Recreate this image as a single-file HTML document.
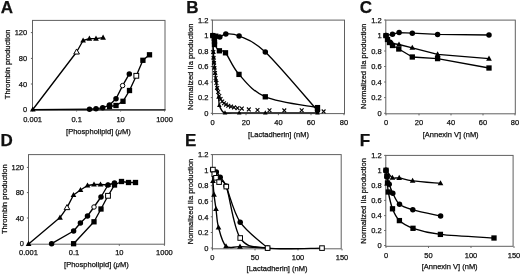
<!DOCTYPE html>
<html><head><meta charset="utf-8"><title>Figure</title>
<style>
html,body{margin:0;padding:0;background:#fff;}
body{width:520px;height:274px;overflow:hidden;}
svg{display:block;filter:blur(0.3px);}
svg text{font-family:"Liberation Sans", sans-serif;fill:#111;stroke:#111;stroke-width:0.25px;}
</style></head>
<body>
<svg width="520" height="274" viewBox="0 0 520 274">
<rect width="520" height="274" fill="#fff"/>
<rect x="32.5" y="20.4" width="132.50" height="89.50" fill="none" stroke="#606060" stroke-width="1"/>
<line x1="32.5" y1="109.9" x2="165.5" y2="109.9" stroke="#1a1a1a" stroke-width="1.2"/>
<line x1="30.9" y1="109.5" x2="32.5" y2="109.5" stroke="#606060" stroke-width="1"/>
<text x="27.2" y="112.2" text-anchor="end" font-size="7.5" font-weight="normal" >0</text>
<line x1="30.9" y1="84" x2="32.5" y2="84" stroke="#606060" stroke-width="1"/>
<text x="27.2" y="86.7" text-anchor="end" font-size="7.5" font-weight="normal" >40</text>
<line x1="30.9" y1="58.4" x2="32.5" y2="58.4" stroke="#606060" stroke-width="1"/>
<text x="27.2" y="61.1" text-anchor="end" font-size="7.5" font-weight="normal" >80</text>
<line x1="30.9" y1="32.6" x2="32.5" y2="32.6" stroke="#606060" stroke-width="1"/>
<text x="27.2" y="35.300000000000004" text-anchor="end" font-size="7.5" font-weight="normal" >120</text>
<line x1="32.6" y1="109.9" x2="32.6" y2="111.5" stroke="#606060" stroke-width="1"/>
<text x="32.6" y="122.2" text-anchor="middle" font-size="7.5" font-weight="normal" >0.001</text>
<line x1="76.6" y1="109.9" x2="76.6" y2="111.5" stroke="#606060" stroke-width="1"/>
<text x="76.6" y="122.2" text-anchor="middle" font-size="7.5" font-weight="normal" >0.1</text>
<line x1="120.6" y1="109.9" x2="120.6" y2="111.5" stroke="#606060" stroke-width="1"/>
<text x="120.6" y="122.2" text-anchor="middle" font-size="7.5" font-weight="normal" >10</text>
<line x1="164.5" y1="109.9" x2="164.5" y2="111.5" stroke="#606060" stroke-width="1"/>
<text x="164.5" y="122.2" text-anchor="middle" font-size="7.5" font-weight="normal" >1000</text>
<text x="98.4" y="133.9" text-anchor="middle" font-size="7.5" font-weight="normal" >[Phospholipid] (<tspan font-style="italic">μ</tspan>M)</text>
<text x="0" y="0" text-anchor="middle" font-size="7.6" transform="translate(10.2,64.4) rotate(-90)">Thrombin production</text>
<path d="M32.80,109.50 L76.60,52.00 L83.10,40.50 L89.40,38.60 L96.00,38.60 L103.10,37.60" fill="none" stroke="#000" stroke-width="1.35" stroke-linejoin="round"/>
<polygon points="32.80,106.44 35.65,111.54 29.95,111.54" fill="#000"/>
<polygon points="76.60,48.94 79.45,54.04 73.75,54.04" fill="#fff" stroke="#000" stroke-width="1" stroke-linejoin="miter"/>
<polygon points="83.10,37.44 85.95,42.54 80.25,42.54" fill="#000"/>
<polygon points="89.40,35.54 92.25,40.64 86.55,40.64" fill="#000"/>
<polygon points="96.00,35.54 98.85,40.64 93.15,40.64" fill="#000"/>
<polygon points="103.10,34.54 105.95,39.64 100.25,39.64" fill="#000"/>
<path d="M32.80,109.60 L89.50,109.20" fill="none" stroke="#000" stroke-width="1.35" stroke-linejoin="round"/>
<path d="M89.50,109.20 L96.00,108.70 L102.70,107.80 L109.50,105.00 L116.00,98.70 L122.60,85.60 L129.30,73.90" fill="none" stroke="#000" stroke-width="1.35" stroke-linejoin="round"/>
<circle cx="89.5" cy="109.2" r="2.75" fill="#000"/>
<circle cx="96" cy="108.7" r="2.75" fill="#000"/>
<circle cx="102.7" cy="107.8" r="2.75" fill="#000"/>
<circle cx="109.5" cy="105" r="2.75" fill="#000"/>
<circle cx="116" cy="98.7" r="2.75" fill="#000"/>
<circle cx="122.6" cy="85.6" r="2.25" fill="#fff" stroke="#000" stroke-width="1"/>
<circle cx="129.3" cy="73.9" r="2.75" fill="#000"/>
<path d="M109.50,106.50 L116.00,105.50 L123.00,101.30 L129.50,90.50 L136.30,75.80 L142.90,60.30 L149.50,54.80" fill="none" stroke="#000" stroke-width="1.35" stroke-linejoin="round"/>
<rect x="106.85" y="103.85" width="5.3" height="5.3" fill="#000"/>
<rect x="113.35" y="102.85" width="5.3" height="5.3" fill="#000"/>
<rect x="120.35" y="98.65" width="5.3" height="5.3" fill="#000"/>
<rect x="126.85" y="87.85" width="5.3" height="5.3" fill="#000"/>
<rect x="133.90" y="73.40" width="4.8" height="4.8" fill="#fff" stroke="#000" stroke-width="1"/>
<rect x="140.25" y="57.65" width="5.3" height="5.3" fill="#000"/>
<rect x="146.85" y="52.15" width="5.3" height="5.3" fill="#000"/>
<text x="7" y="12.9" text-anchor="middle" font-size="17" font-weight="bold" >A</text>
<rect x="28.5" y="154.6" width="136.10" height="89.60" fill="none" stroke="#606060" stroke-width="1"/>
<line x1="26.9" y1="243.3" x2="28.5" y2="243.3" stroke="#606060" stroke-width="1"/>
<text x="24.0" y="246.0" text-anchor="end" font-size="7.5" font-weight="normal" >0</text>
<line x1="26.9" y1="218" x2="28.5" y2="218" stroke="#606060" stroke-width="1"/>
<text x="24.0" y="220.7" text-anchor="end" font-size="7.5" font-weight="normal" >40</text>
<line x1="26.9" y1="192.6" x2="28.5" y2="192.6" stroke="#606060" stroke-width="1"/>
<text x="24.0" y="195.29999999999998" text-anchor="end" font-size="7.5" font-weight="normal" >80</text>
<line x1="26.9" y1="167.4" x2="28.5" y2="167.4" stroke="#606060" stroke-width="1"/>
<text x="24.0" y="170.1" text-anchor="end" font-size="7.5" font-weight="normal" >120</text>
<line x1="28.5" y1="244.2" x2="28.5" y2="245.79999999999998" stroke="#606060" stroke-width="1"/>
<text x="28.5" y="255.4" text-anchor="middle" font-size="7.5" font-weight="normal" >0.001</text>
<line x1="74" y1="244.2" x2="74" y2="245.79999999999998" stroke="#606060" stroke-width="1"/>
<text x="74" y="255.4" text-anchor="middle" font-size="7.5" font-weight="normal" >0.1</text>
<line x1="119.3" y1="244.2" x2="119.3" y2="245.79999999999998" stroke="#606060" stroke-width="1"/>
<text x="119.3" y="255.4" text-anchor="middle" font-size="7.5" font-weight="normal" >10</text>
<line x1="164.4" y1="244.2" x2="164.4" y2="245.79999999999998" stroke="#606060" stroke-width="1"/>
<text x="164.4" y="255.4" text-anchor="middle" font-size="7.5" font-weight="normal" >1000</text>
<text x="96.4" y="267.4" text-anchor="middle" font-size="7.5" font-weight="normal" >[Phospholipid] (<tspan font-style="italic">μ</tspan>M)</text>
<text x="0" y="0" text-anchor="middle" font-size="7.6" transform="translate(6.9,199.2) rotate(-90)">Thrombin production</text>
<path d="M28.60,243.90 L60.00,217.60 L67.00,207.60 L73.50,195.00 L80.50,190.00 L87.50,185.50 L94.00,184.50 L100.50,184.50 L108.00,185.00" fill="none" stroke="#000" stroke-width="1.35" stroke-linejoin="round"/>
<polygon points="28.60,240.84 31.45,245.94 25.75,245.94" fill="#000"/>
<polygon points="60.00,214.54 62.85,219.64 57.15,219.64" fill="#000"/>
<polygon points="67.00,204.54 69.85,209.64 64.15,209.64" fill="#fff" stroke="#000" stroke-width="1" stroke-linejoin="miter"/>
<polygon points="73.50,191.94 76.35,197.04 70.65,197.04" fill="#000"/>
<polygon points="80.50,186.94 83.35,192.04 77.65,192.04" fill="#000"/>
<polygon points="87.50,182.44 90.35,187.54 84.65,187.54" fill="#000"/>
<polygon points="94.00,181.44 96.85,186.54 91.15,186.54" fill="#000"/>
<polygon points="100.50,181.44 103.35,186.54 97.65,186.54" fill="#000"/>
<polygon points="108.00,181.94 110.85,187.04 105.15,187.04" fill="#000"/>
<path d="M51.60,243.70 L73.60,231.00 L80.40,223.00 L87.50,216.00 L94.00,207.00 L101.00,197.00 L108.00,185.00 L114.50,183.00" fill="none" stroke="#000" stroke-width="1.35" stroke-linejoin="round"/>
<circle cx="51.6" cy="243.7" r="2.75" fill="#000"/>
<circle cx="73.6" cy="231" r="2.75" fill="#000"/>
<circle cx="80.4" cy="223" r="2.75" fill="#000"/>
<circle cx="87.5" cy="216" r="2.75" fill="#000"/>
<circle cx="94" cy="207" r="2.25" fill="#fff" stroke="#000" stroke-width="1"/>
<circle cx="101" cy="197" r="2.75" fill="#000"/>
<circle cx="108" cy="185" r="2.75" fill="#000"/>
<circle cx="114.5" cy="183" r="2.75" fill="#000"/>
<path d="M73.60,243.70 L94.00,221.80 L101.00,209.00 L108.00,195.80 L114.50,185.00 L121.50,181.50 L128.50,182.50 L135.50,182.50" fill="none" stroke="#000" stroke-width="1.35" stroke-linejoin="round"/>
<rect x="70.95" y="241.05" width="5.3" height="5.3" fill="#000"/>
<rect x="91.35" y="219.15" width="5.3" height="5.3" fill="#000"/>
<rect x="98.35" y="206.35" width="5.3" height="5.3" fill="#000"/>
<rect x="105.60" y="193.40" width="4.8" height="4.8" fill="#fff" stroke="#000" stroke-width="1"/>
<rect x="111.85" y="182.35" width="5.3" height="5.3" fill="#000"/>
<rect x="118.85" y="178.85" width="5.3" height="5.3" fill="#000"/>
<rect x="125.85" y="179.85" width="5.3" height="5.3" fill="#000"/>
<rect x="132.85" y="179.85" width="5.3" height="5.3" fill="#000"/>
<text x="6.6" y="146" text-anchor="middle" font-size="17" font-weight="bold" >D</text>
<rect x="212.4" y="20.1" width="132.10" height="93.50" fill="none" stroke="#606060" stroke-width="1"/>
<line x1="210.8" y1="113.3" x2="212.4" y2="113.3" stroke="#606060" stroke-width="1"/>
<text x="208.4" y="116.0" text-anchor="end" font-size="7.5" font-weight="normal" >0</text>
<line x1="210.8" y1="97.6" x2="212.4" y2="97.6" stroke="#606060" stroke-width="1"/>
<text x="208.4" y="100.3" text-anchor="end" font-size="7.5" font-weight="normal" >0.2</text>
<line x1="210.8" y1="82" x2="212.4" y2="82" stroke="#606060" stroke-width="1"/>
<text x="208.4" y="84.7" text-anchor="end" font-size="7.5" font-weight="normal" >0.4</text>
<line x1="210.8" y1="66.5" x2="212.4" y2="66.5" stroke="#606060" stroke-width="1"/>
<text x="208.4" y="69.2" text-anchor="end" font-size="7.5" font-weight="normal" >0.6</text>
<line x1="210.8" y1="51" x2="212.4" y2="51" stroke="#606060" stroke-width="1"/>
<text x="208.4" y="53.7" text-anchor="end" font-size="7.5" font-weight="normal" >0.8</text>
<line x1="210.8" y1="35.6" x2="212.4" y2="35.6" stroke="#606060" stroke-width="1"/>
<text x="208.4" y="38.300000000000004" text-anchor="end" font-size="7.5" font-weight="normal" >1</text>
<line x1="210.8" y1="20" x2="212.4" y2="20" stroke="#606060" stroke-width="1"/>
<text x="208.4" y="22.7" text-anchor="end" font-size="7.5" font-weight="normal" >1.2</text>
<line x1="212.6" y1="113.6" x2="212.6" y2="115.19999999999999" stroke="#606060" stroke-width="1"/>
<text x="212.6" y="125.3" text-anchor="middle" font-size="7.5" font-weight="normal" >0</text>
<line x1="246" y1="113.6" x2="246" y2="115.19999999999999" stroke="#606060" stroke-width="1"/>
<text x="246" y="125.3" text-anchor="middle" font-size="7.5" font-weight="normal" >20</text>
<line x1="278.4" y1="113.6" x2="278.4" y2="115.19999999999999" stroke="#606060" stroke-width="1"/>
<text x="278.4" y="125.3" text-anchor="middle" font-size="7.5" font-weight="normal" >40</text>
<line x1="311" y1="113.6" x2="311" y2="115.19999999999999" stroke="#606060" stroke-width="1"/>
<text x="311" y="125.3" text-anchor="middle" font-size="7.5" font-weight="normal" >60</text>
<line x1="344" y1="113.6" x2="344" y2="115.19999999999999" stroke="#606060" stroke-width="1"/>
<text x="344" y="125.3" text-anchor="middle" font-size="7.5" font-weight="normal" >80</text>
<text x="278.5" y="136.7" text-anchor="middle" font-size="7.5" font-weight="normal" >[Lactadherin] (nM)</text>
<text x="0" y="0" text-anchor="middle" font-size="7.6" transform="translate(193.1,66.8) rotate(-90)">Normalized IIa production</text>
<path d="M212.80,35.60 C213.97,35.83 217.63,37.27 219.80,37.00 C221.97,36.73 222.58,34.17 225.80,34.00 C229.02,33.83 232.52,33.00 239.10,36.00 C245.68,39.00 252.23,39.57 265.30,52.00 C278.37,64.43 308.80,100.83 317.50,110.60" fill="none" stroke="#000" stroke-width="1.35" stroke-linejoin="round"/>
<circle cx="212.8" cy="35.6" r="2.75" fill="#000"/>
<circle cx="219.8" cy="37" r="2.75" fill="#000"/>
<circle cx="225.8" cy="34" r="2.75" fill="#000"/>
<circle cx="239.1" cy="36" r="2.75" fill="#000"/>
<circle cx="265.3" cy="52" r="2.75" fill="#000"/>
<circle cx="317.5" cy="110.6" r="2.75" fill="#000"/>
<path d="M212.80,35.60 C213.30,35.70 215.55,35.72 215.80,36.20 C216.05,36.68 214.52,37.62 214.30,38.50 C214.08,39.38 214.47,40.50 214.50,41.50 C214.53,42.50 213.68,42.95 214.50,44.50 C215.32,46.05 217.57,49.42 219.40,50.80 C221.23,52.18 222.23,48.87 225.50,52.80 C228.77,56.73 232.37,67.07 239.00,74.40 C245.63,81.73 252.22,91.27 265.30,96.80 C278.38,102.33 308.80,105.80 317.50,107.60" fill="none" stroke="#000" stroke-width="1.35" stroke-linejoin="round"/>
<rect x="210.15" y="32.95" width="5.3" height="5.3" fill="#000"/>
<rect x="213.15" y="33.55" width="5.3" height="5.3" fill="#000"/>
<rect x="211.65" y="35.85" width="5.3" height="5.3" fill="#000"/>
<rect x="211.85" y="38.85" width="5.3" height="5.3" fill="#000"/>
<rect x="211.85" y="41.85" width="5.3" height="5.3" fill="#000"/>
<rect x="216.75" y="48.15" width="5.3" height="5.3" fill="#000"/>
<rect x="222.85" y="50.15" width="5.3" height="5.3" fill="#000"/>
<rect x="236.35" y="71.75" width="5.3" height="5.3" fill="#000"/>
<rect x="262.65" y="94.15" width="5.3" height="5.3" fill="#000"/>
<rect x="314.85" y="104.95" width="5.3" height="5.3" fill="#000"/>
<path d="M211.40,50.10 L215.20,53.90 M215.20,50.10 L211.40,53.90" stroke="#000" stroke-width="1.1"/>
<path d="M211.70,56.10 L215.50,59.90 M215.50,56.10 L211.70,59.90" stroke="#000" stroke-width="1.1"/>
<path d="M212.10,61.10 L215.90,64.90 M215.90,61.10 L212.10,64.90" stroke="#000" stroke-width="1.1"/>
<path d="M212.50,66.10 L216.30,69.90 M216.30,66.10 L212.50,69.90" stroke="#000" stroke-width="1.1"/>
<path d="M213.10,71.10 L216.90,74.90 M216.90,71.10 L213.10,74.90" stroke="#000" stroke-width="1.1"/>
<path d="M213.70,76.10 L217.50,79.90 M217.50,76.10 L213.70,79.90" stroke="#000" stroke-width="1.1"/>
<path d="M214.50,81.10 L218.30,84.90 M218.30,81.10 L214.50,84.90" stroke="#000" stroke-width="1.1"/>
<path d="M215.30,86.10 L219.10,89.90 M219.10,86.10 L215.30,89.90" stroke="#000" stroke-width="1.1"/>
<path d="M216.30,90.10 L220.10,93.90 M220.10,90.10 L216.30,93.90" stroke="#000" stroke-width="1.1"/>
<path d="M217.40,94.10 L221.20,97.90 M221.20,94.10 L217.40,97.90" stroke="#000" stroke-width="1.1"/>
<path d="M218.70,97.10 L222.50,100.90 M222.50,97.10 L218.70,100.90" stroke="#000" stroke-width="1.1"/>
<path d="M220.30,99.60 L224.10,103.40 M224.10,99.60 L220.30,103.40" stroke="#000" stroke-width="1.1"/>
<path d="M222.10,101.30 L225.90,105.10 M225.90,101.30 L222.10,105.10" stroke="#000" stroke-width="1.1"/>
<path d="M224.10,102.70 L227.90,106.50 M227.90,102.70 L224.10,106.50" stroke="#000" stroke-width="1.1"/>
<path d="M226.40,103.80 L230.20,107.60 M230.20,103.80 L226.40,107.60" stroke="#000" stroke-width="1.1"/>
<path d="M229.10,104.70 L232.90,108.50 M232.90,104.70 L229.10,108.50" stroke="#000" stroke-width="1.1"/>
<path d="M232.10,105.50 L235.90,109.30 M235.90,105.50 L232.10,109.30" stroke="#000" stroke-width="1.1"/>
<path d="M235.60,106.20 L239.40,110.00 M239.40,106.20 L235.60,110.00" stroke="#000" stroke-width="1.1"/>
<path d="M239.90,106.70 L243.70,110.50 M243.70,106.70 L239.90,110.50" stroke="#000" stroke-width="1.1"/>
<path d="M246.90,107.50 L250.70,111.30 M250.70,107.50 L246.90,111.30" stroke="#000" stroke-width="1.1"/>
<path d="M255.60,108.10 L259.40,111.90 M259.40,108.10 L255.60,111.90" stroke="#000" stroke-width="1.1"/>
<path d="M267.60,108.40 L271.40,112.20 M271.40,108.40 L267.60,112.20" stroke="#000" stroke-width="1.1"/>
<path d="M282.40,108.50 L286.20,112.30 M286.20,108.50 L282.40,112.30" stroke="#000" stroke-width="1.1"/>
<path d="M299.80,108.30 L303.60,112.10 M303.60,108.30 L299.80,112.10" stroke="#000" stroke-width="1.1"/>
<path d="M321.70,109.50 L325.50,113.30 M325.50,109.50 L321.70,113.30" stroke="#000" stroke-width="1.1"/>
<path d="M212.80,35.60 C212.90,38.33 213.27,48.43 213.40,52.00 C213.53,55.57 213.50,55.33 213.60,57.00 C213.70,58.67 213.85,60.33 214.00,62.00 C214.15,63.67 214.30,65.17 214.50,67.00 C214.70,68.83 214.95,70.83 215.20,73.00 C215.45,75.17 215.70,77.50 216.00,80.00 C216.30,82.50 216.58,85.17 217.00,88.00 C217.42,90.83 218.12,94.13 218.50,97.00 C218.88,99.87 218.80,103.03 219.30,105.20 C219.80,107.37 220.55,108.73 221.50,110.00 C222.45,111.27 222.05,112.33 225.00,112.80 C227.95,113.27 232.48,112.80 239.20,112.80 C245.92,112.80 252.25,112.80 265.30,112.80 C278.35,112.80 308.80,112.80 317.50,112.80" fill="none" stroke="#000" stroke-width="1.35" stroke-linejoin="round"/>
<polygon points="213.40,49.48 215.70,53.68 211.10,53.68" fill="#000"/>
<polygon points="213.60,54.48 215.90,58.68 211.30,58.68" fill="#000"/>
<polygon points="214.00,59.48 216.30,63.68 211.70,63.68" fill="#000"/>
<polygon points="214.50,64.48 216.80,68.68 212.20,68.68" fill="#000"/>
<polygon points="215.20,70.48 217.50,74.68 212.90,74.68" fill="#000"/>
<polygon points="216.00,77.48 218.30,81.68 213.70,81.68" fill="#000"/>
<polygon points="217.00,85.48 219.30,89.68 214.70,89.68" fill="#000"/>
<polygon points="218.50,94.48 220.80,98.68 216.20,98.68" fill="#000"/>
<polygon points="219.30,102.68 221.60,106.88 217.00,106.88" fill="#000"/>
<polygon points="225.00,110.28 227.30,114.48 222.70,114.48" fill="#000"/>
<polygon points="239.20,110.28 241.50,114.48 236.90,114.48" fill="#000"/>
<polygon points="265.30,110.28 267.60,114.48 263.00,114.48" fill="#000"/>
<polygon points="317.50,110.28 319.80,114.48 315.20,114.48" fill="#000"/>
<text x="192.5" y="13" text-anchor="middle" font-size="17" font-weight="bold" >B</text>
<rect x="385.8" y="20.1" width="129.50" height="93.70" fill="none" stroke="#606060" stroke-width="1"/>
<line x1="384.2" y1="113.3" x2="385.8" y2="113.3" stroke="#606060" stroke-width="1"/>
<text x="381.6" y="116.0" text-anchor="end" font-size="7.5" font-weight="normal" >0</text>
<line x1="384.2" y1="97.6" x2="385.8" y2="97.6" stroke="#606060" stroke-width="1"/>
<text x="381.6" y="100.3" text-anchor="end" font-size="7.5" font-weight="normal" >0.2</text>
<line x1="384.2" y1="82" x2="385.8" y2="82" stroke="#606060" stroke-width="1"/>
<text x="381.6" y="84.7" text-anchor="end" font-size="7.5" font-weight="normal" >0.4</text>
<line x1="384.2" y1="66.5" x2="385.8" y2="66.5" stroke="#606060" stroke-width="1"/>
<text x="381.6" y="69.2" text-anchor="end" font-size="7.5" font-weight="normal" >0.6</text>
<line x1="384.2" y1="51" x2="385.8" y2="51" stroke="#606060" stroke-width="1"/>
<text x="381.6" y="53.7" text-anchor="end" font-size="7.5" font-weight="normal" >0.8</text>
<line x1="384.2" y1="35.4" x2="385.8" y2="35.4" stroke="#606060" stroke-width="1"/>
<text x="381.6" y="38.1" text-anchor="end" font-size="7.5" font-weight="normal" >1</text>
<line x1="384.2" y1="20" x2="385.8" y2="20" stroke="#606060" stroke-width="1"/>
<text x="381.6" y="22.7" text-anchor="end" font-size="7.5" font-weight="normal" >1.2</text>
<line x1="386" y1="113.8" x2="386" y2="115.39999999999999" stroke="#606060" stroke-width="1"/>
<text x="386" y="125.3" text-anchor="middle" font-size="7.5" font-weight="normal" >0</text>
<line x1="419" y1="113.8" x2="419" y2="115.39999999999999" stroke="#606060" stroke-width="1"/>
<text x="419" y="125.3" text-anchor="middle" font-size="7.5" font-weight="normal" >20</text>
<line x1="451" y1="113.8" x2="451" y2="115.39999999999999" stroke="#606060" stroke-width="1"/>
<text x="451" y="125.3" text-anchor="middle" font-size="7.5" font-weight="normal" >40</text>
<line x1="483" y1="113.8" x2="483" y2="115.39999999999999" stroke="#606060" stroke-width="1"/>
<text x="483" y="125.3" text-anchor="middle" font-size="7.5" font-weight="normal" >60</text>
<line x1="515" y1="113.8" x2="515" y2="115.39999999999999" stroke="#606060" stroke-width="1"/>
<text x="515" y="125.3" text-anchor="middle" font-size="7.5" font-weight="normal" >80</text>
<text x="450.7" y="136.7" text-anchor="middle" font-size="7.5" font-weight="normal" >[Annexin V] (nM)</text>
<text x="0" y="0" text-anchor="middle" font-size="7.5" transform="translate(366.2,66.2) rotate(-90)">Normalized IIa production</text>
<path d="M386.00,35.60 L392.50,34.20 L399.10,32.60 L412.30,33.20 L437.60,34.40 L489.00,35.00" fill="none" stroke="#000" stroke-width="1.35" stroke-linejoin="round"/>
<circle cx="386" cy="35.6" r="2.75" fill="#000"/>
<circle cx="392.5" cy="34.2" r="2.75" fill="#000"/>
<circle cx="399.1" cy="32.6" r="2.75" fill="#000"/>
<circle cx="412.3" cy="33.2" r="2.75" fill="#000"/>
<circle cx="437.6" cy="34.4" r="2.75" fill="#000"/>
<circle cx="489" cy="35" r="2.75" fill="#000"/>
<path d="M386.00,35.60 L389.00,40.00 L392.50,43.50 L399.00,44.50 L412.30,47.80 L437.60,54.40 L489.00,58.60" fill="none" stroke="#000" stroke-width="1.35" stroke-linejoin="round"/>
<polygon points="386.00,32.54 388.85,37.64 383.15,37.64" fill="#000"/>
<polygon points="389.00,36.94 391.85,42.04 386.15,42.04" fill="#000"/>
<polygon points="392.50,40.44 395.35,45.54 389.65,45.54" fill="#000"/>
<polygon points="399.00,41.44 401.85,46.54 396.15,46.54" fill="#000"/>
<polygon points="412.30,44.74 415.15,49.84 409.45,49.84" fill="#000"/>
<polygon points="437.60,51.34 440.45,56.44 434.75,56.44" fill="#000"/>
<polygon points="489.00,55.54 491.85,60.64 486.15,60.64" fill="#000"/>
<path d="M386.00,35.60 L387.50,39.50 L389.50,42.50 L392.50,45.50 L398.80,49.00 L412.30,57.00 L437.60,58.60 L489.00,68.00" fill="none" stroke="#000" stroke-width="1.35" stroke-linejoin="round"/>
<rect x="383.35" y="32.95" width="5.3" height="5.3" fill="#000"/>
<rect x="384.85" y="36.85" width="5.3" height="5.3" fill="#000"/>
<rect x="386.85" y="39.85" width="5.3" height="5.3" fill="#000"/>
<rect x="389.85" y="42.85" width="5.3" height="5.3" fill="#000"/>
<rect x="396.15" y="46.35" width="5.3" height="5.3" fill="#000"/>
<rect x="409.65" y="54.35" width="5.3" height="5.3" fill="#000"/>
<rect x="434.95" y="55.95" width="5.3" height="5.3" fill="#000"/>
<rect x="486.35" y="65.35" width="5.3" height="5.3" fill="#000"/>
<text x="366" y="13" text-anchor="middle" font-size="17" font-weight="bold" >C</text>
<rect x="212.4" y="154.6" width="128.80" height="94.20" fill="none" stroke="#606060" stroke-width="1"/>
<line x1="210.8" y1="248" x2="212.4" y2="248" stroke="#606060" stroke-width="1"/>
<text x="208.4" y="250.7" text-anchor="end" font-size="7.5" font-weight="normal" >0</text>
<line x1="210.8" y1="232.5" x2="212.4" y2="232.5" stroke="#606060" stroke-width="1"/>
<text x="208.4" y="235.2" text-anchor="end" font-size="7.5" font-weight="normal" >0.2</text>
<line x1="210.8" y1="216.8" x2="212.4" y2="216.8" stroke="#606060" stroke-width="1"/>
<text x="208.4" y="219.5" text-anchor="end" font-size="7.5" font-weight="normal" >0.4</text>
<line x1="210.8" y1="201.2" x2="212.4" y2="201.2" stroke="#606060" stroke-width="1"/>
<text x="208.4" y="203.89999999999998" text-anchor="end" font-size="7.5" font-weight="normal" >0.6</text>
<line x1="210.8" y1="185.7" x2="212.4" y2="185.7" stroke="#606060" stroke-width="1"/>
<text x="208.4" y="188.39999999999998" text-anchor="end" font-size="7.5" font-weight="normal" >0.8</text>
<line x1="210.8" y1="170" x2="212.4" y2="170" stroke="#606060" stroke-width="1"/>
<text x="208.4" y="172.7" text-anchor="end" font-size="7.5" font-weight="normal" >1</text>
<line x1="210.8" y1="154.6" x2="212.4" y2="154.6" stroke="#606060" stroke-width="1"/>
<text x="208.4" y="157.29999999999998" text-anchor="end" font-size="7.5" font-weight="normal" >1.2</text>
<line x1="212.4" y1="248.8" x2="212.4" y2="250.4" stroke="#606060" stroke-width="1"/>
<text x="212.4" y="260.3" text-anchor="middle" font-size="7.5" font-weight="normal" >0</text>
<line x1="255" y1="248.8" x2="255" y2="250.4" stroke="#606060" stroke-width="1"/>
<text x="255" y="260.3" text-anchor="middle" font-size="7.5" font-weight="normal" >50</text>
<line x1="298" y1="248.8" x2="298" y2="250.4" stroke="#606060" stroke-width="1"/>
<text x="298" y="260.3" text-anchor="middle" font-size="7.5" font-weight="normal" >100</text>
<line x1="342" y1="248.8" x2="342" y2="250.4" stroke="#606060" stroke-width="1"/>
<text x="342" y="260.3" text-anchor="middle" font-size="7.5" font-weight="normal" >150</text>
<text x="277" y="270.5" text-anchor="middle" font-size="7.5" font-weight="normal" >[Lactadherin] (nM)</text>
<text x="0" y="0" text-anchor="middle" font-size="7.5" transform="translate(193.1,201.5) rotate(-90)">Normalized IIa production</text>
<path d="M212.60,170.00 C212.67,171.83 212.77,176.90 213.00,181.00 C213.23,185.10 213.50,189.93 214.00,194.60 C214.50,199.27 215.25,203.52 216.00,209.00 C216.75,214.48 216.83,221.30 218.50,227.50 C220.17,233.70 222.42,243.02 226.00,246.20 C229.58,249.38 233.07,246.30 240.00,246.60 C246.93,246.90 263.00,247.77 267.60,248.00" fill="none" stroke="#000" stroke-width="1.35" stroke-linejoin="round"/>
<polygon points="212.60,166.94 215.45,172.04 209.75,172.04" fill="#000"/>
<polygon points="213.00,177.94 215.85,183.04 210.15,183.04" fill="#000"/>
<polygon points="214.00,191.54 216.85,196.64 211.15,196.64" fill="#000"/>
<polygon points="216.00,205.94 218.85,211.04 213.15,211.04" fill="#000"/>
<polygon points="218.50,224.44 221.35,229.54 215.65,229.54" fill="#000"/>
<polygon points="226.00,243.14 228.85,248.24 223.15,248.24" fill="#000"/>
<polygon points="240.00,243.54 242.85,248.64 237.15,248.64" fill="#000"/>
<polygon points="267.60,244.94 270.45,250.04 264.75,250.04" fill="#000"/>
<path d="M212.60,170.00 C213.22,170.33 215.03,170.80 216.30,172.00 C217.57,173.20 218.58,174.87 220.20,177.20 C221.82,179.53 222.67,178.50 226.00,186.00 C229.33,193.50 233.27,211.87 240.20,222.20 C247.13,232.53 263.03,243.70 267.60,248.00" fill="none" stroke="#000" stroke-width="1.35" stroke-linejoin="round"/>
<circle cx="212.6" cy="170" r="2.75" fill="#000"/>
<circle cx="216.3" cy="172" r="2.75" fill="#000"/>
<circle cx="220.2" cy="177.2" r="2.75" fill="#000"/>
<circle cx="226" cy="186" r="2.75" fill="#000"/>
<circle cx="240.2" cy="222.2" r="2.75" fill="#000"/>
<circle cx="267.6" cy="248" r="2.75" fill="#000"/>
<path d="M212.90,169.60 C213.13,170.37 213.78,172.83 214.30,174.20 C214.82,175.57 215.20,176.48 216.00,177.80 C216.80,179.12 217.38,180.63 219.10,182.10 C220.82,183.57 222.78,177.28 226.30,186.60 C229.82,195.92 233.32,227.75 240.20,238.00 C247.08,248.25 253.97,246.42 267.60,248.10 C281.23,249.78 312.93,248.10 322.00,248.10" fill="none" stroke="#000" stroke-width="1.35" stroke-linejoin="round"/>
<rect x="210.60" y="167.30" width="4.6" height="4.6" fill="#fff" stroke="#000" stroke-width="1"/>
<rect x="212.00" y="171.90" width="4.6" height="4.6" fill="#fff" stroke="#000" stroke-width="1"/>
<rect x="213.70" y="175.50" width="4.6" height="4.6" fill="#fff" stroke="#000" stroke-width="1"/>
<rect x="216.80" y="179.80" width="4.6" height="4.6" fill="#fff" stroke="#000" stroke-width="1"/>
<rect x="224.00" y="184.30" width="4.6" height="4.6" fill="#fff" stroke="#000" stroke-width="1"/>
<rect x="237.90" y="235.70" width="4.6" height="4.6" fill="#fff" stroke="#000" stroke-width="1"/>
<rect x="265.30" y="245.80" width="4.6" height="4.6" fill="#fff" stroke="#000" stroke-width="1"/>
<rect x="319.70" y="245.80" width="4.6" height="4.6" fill="#fff" stroke="#000" stroke-width="1"/>
<text x="190.7" y="145.7" text-anchor="middle" font-size="17" font-weight="bold" >E</text>
<rect x="385.8" y="155.4" width="127.30" height="90.90" fill="none" stroke="#606060" stroke-width="1"/>
<line x1="384.2" y1="245.5" x2="385.8" y2="245.5" stroke="#606060" stroke-width="1"/>
<text x="381.6" y="248.2" text-anchor="end" font-size="7.5" font-weight="normal" >0</text>
<line x1="384.2" y1="230.5" x2="385.8" y2="230.5" stroke="#606060" stroke-width="1"/>
<text x="381.6" y="233.2" text-anchor="end" font-size="7.5" font-weight="normal" >0.2</text>
<line x1="384.2" y1="215.6" x2="385.8" y2="215.6" stroke="#606060" stroke-width="1"/>
<text x="381.6" y="218.29999999999998" text-anchor="end" font-size="7.5" font-weight="normal" >0.4</text>
<line x1="384.2" y1="200.4" x2="385.8" y2="200.4" stroke="#606060" stroke-width="1"/>
<text x="381.6" y="203.1" text-anchor="end" font-size="7.5" font-weight="normal" >0.6</text>
<line x1="384.2" y1="185.2" x2="385.8" y2="185.2" stroke="#606060" stroke-width="1"/>
<text x="381.6" y="187.89999999999998" text-anchor="end" font-size="7.5" font-weight="normal" >0.8</text>
<line x1="384.2" y1="170.2" x2="385.8" y2="170.2" stroke="#606060" stroke-width="1"/>
<text x="381.6" y="172.89999999999998" text-anchor="end" font-size="7.5" font-weight="normal" >1</text>
<line x1="384.2" y1="155.4" x2="385.8" y2="155.4" stroke="#606060" stroke-width="1"/>
<text x="381.6" y="158.1" text-anchor="end" font-size="7.5" font-weight="normal" >1.2</text>
<line x1="386" y1="246.3" x2="386" y2="247.9" stroke="#606060" stroke-width="1"/>
<text x="386" y="257.8" text-anchor="middle" font-size="7.5" font-weight="normal" >0</text>
<line x1="428.5" y1="246.3" x2="428.5" y2="247.9" stroke="#606060" stroke-width="1"/>
<text x="428.5" y="257.8" text-anchor="middle" font-size="7.5" font-weight="normal" >50</text>
<line x1="471" y1="246.3" x2="471" y2="247.9" stroke="#606060" stroke-width="1"/>
<text x="471" y="257.8" text-anchor="middle" font-size="7.5" font-weight="normal" >100</text>
<line x1="514" y1="246.3" x2="514" y2="247.9" stroke="#606060" stroke-width="1"/>
<text x="514" y="257.8" text-anchor="middle" font-size="7.5" font-weight="normal" >150</text>
<text x="449.7" y="269.4" text-anchor="middle" font-size="7.5" font-weight="normal" >[Annexin V] (nM)</text>
<text x="0" y="0" text-anchor="middle" font-size="7.5" transform="translate(366.2,200.9) rotate(-90)">Normalized IIa production</text>
<path d="M386.00,170.30 C387.07,171.53 390.20,176.43 392.40,177.70 C394.60,178.97 395.83,177.38 399.20,177.90 C402.57,178.42 405.72,179.90 412.60,180.80 C419.48,181.70 435.85,182.88 440.50,183.30" fill="none" stroke="#000" stroke-width="1.35" stroke-linejoin="round"/>
<polygon points="386.00,167.24 388.85,172.34 383.15,172.34" fill="#000"/>
<polygon points="392.40,174.64 395.25,179.74 389.55,179.74" fill="#000"/>
<polygon points="399.20,174.84 402.05,179.94 396.35,179.94" fill="#000"/>
<polygon points="412.60,177.74 415.45,182.84 409.75,182.84" fill="#000"/>
<polygon points="440.50,180.24 443.35,185.34 437.65,185.34" fill="#000"/>
<path d="M386.00,170.30 C386.20,171.42 386.67,174.67 387.20,177.00 C387.73,179.33 388.27,181.60 389.20,184.30 C390.13,187.00 391.08,189.87 392.80,193.20 C394.52,196.53 396.17,201.53 399.50,204.30 C402.83,207.07 405.95,207.85 412.80,209.80 C419.65,211.75 435.97,214.97 440.60,216.00" fill="none" stroke="#000" stroke-width="1.35" stroke-linejoin="round"/>
<circle cx="386" cy="170.3" r="2.75" fill="#000"/>
<circle cx="387.2" cy="177" r="2.75" fill="#000"/>
<circle cx="389.2" cy="184.3" r="2.75" fill="#000"/>
<circle cx="392.8" cy="193.2" r="2.75" fill="#000"/>
<circle cx="399.5" cy="204.3" r="2.75" fill="#000"/>
<circle cx="412.8" cy="209.8" r="2.75" fill="#000"/>
<circle cx="440.6" cy="216" r="2.75" fill="#000"/>
<path d="M386.00,170.30 C386.13,171.25 386.55,173.88 386.80,176.00 C387.05,178.12 387.25,180.33 387.50,183.00 C387.75,185.67 387.47,187.70 388.30,192.00 C389.13,196.30 390.65,204.03 392.50,208.80 C394.35,213.57 395.98,217.35 399.40,220.60 C402.82,223.85 406.17,226.00 413.00,228.30 C419.83,230.60 426.90,232.78 440.40,234.40 C453.90,236.02 485.07,237.40 494.00,238.00" fill="none" stroke="#000" stroke-width="1.35" stroke-linejoin="round"/>
<rect x="383.35" y="167.65" width="5.3" height="5.3" fill="#000"/>
<rect x="384.15" y="173.35" width="5.3" height="5.3" fill="#000"/>
<rect x="384.85" y="180.35" width="5.3" height="5.3" fill="#000"/>
<rect x="385.65" y="189.35" width="5.3" height="5.3" fill="#000"/>
<rect x="389.85" y="206.15" width="5.3" height="5.3" fill="#000"/>
<rect x="396.75" y="217.95" width="5.3" height="5.3" fill="#000"/>
<rect x="410.35" y="225.65" width="5.3" height="5.3" fill="#000"/>
<rect x="437.75" y="231.75" width="5.3" height="5.3" fill="#000"/>
<rect x="491.35" y="235.35" width="5.3" height="5.3" fill="#000"/>
<text x="365" y="145.8" text-anchor="middle" font-size="17" font-weight="bold" >F</text>
</svg>
</body></html>
